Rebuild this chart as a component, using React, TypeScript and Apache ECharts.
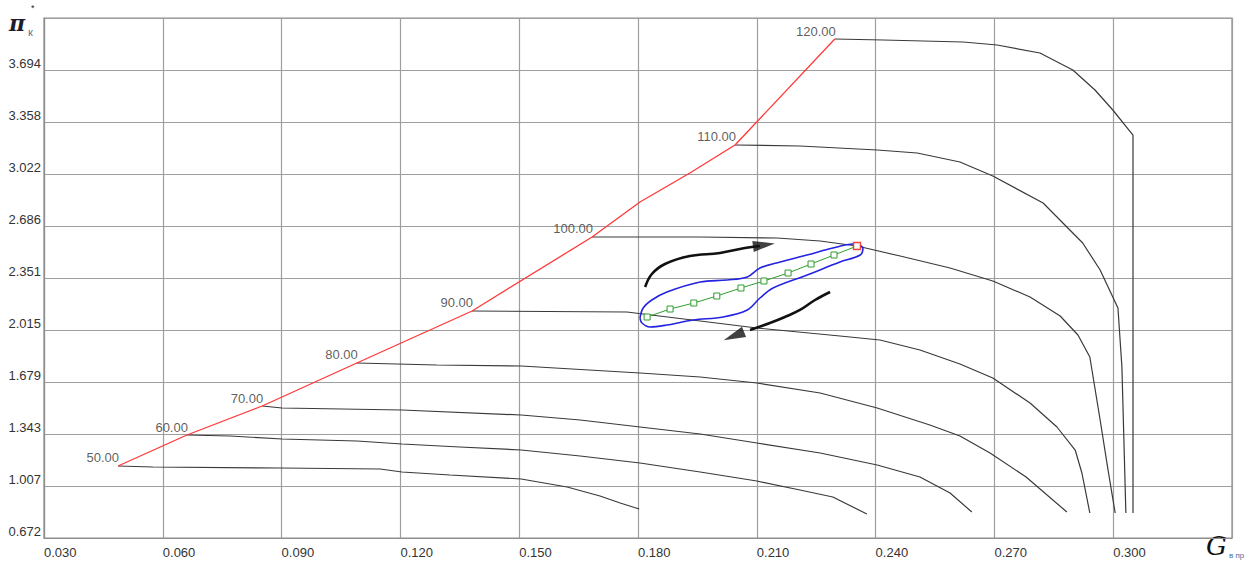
import React, { useEffect, useRef } from "react";
import * as echarts from "echarts";

// Compressor map: pressure ratio vs. corrected mass flow
const speedLabels = [50, 60, 70, 80, 90, 100, 110, 120];

const line50 = [[0.0487, 1.1366], [0.0575, 1.1301], [0.0896, 1.1236], [0.1149, 1.1172], [0.1204, 1.0978], [0.1325, 1.0784], [0.1505, 1.0526], [0.1621, 1.0009], [0.1704, 0.9428], [0.1755, 0.8976], [0.1803, 0.8589]];
const line60 = [[0.0661, 1.3367], [0.0770, 1.3302], [0.0901, 1.3109], [0.1090, 1.2980], [0.1204, 1.2786], [0.1350, 1.2592], [0.1505, 1.2398], [0.1654, 1.2011], [0.1805, 1.1559], [0.1957, 1.0978], [0.2100, 1.0396], [0.2209, 0.9815], [0.2292, 0.9363], [0.2378, 0.8265]];
const line70 = [[0.0851, 1.5240], [0.0901, 1.5111], [0.1204, 1.4982], [0.1505, 1.4659], [0.1654, 1.4336], [0.1805, 1.3884], [0.1957, 1.3432], [0.2100, 1.2851], [0.2260, 1.2205], [0.2404, 1.1430], [0.2512, 1.0655], [0.2588, 0.9622], [0.2643, 0.8395]];
const line80 = [[0.1090, 1.8017], [0.1292, 1.7888], [0.1505, 1.7823], [0.1805, 1.7371], [0.1957, 1.7113], [0.2100, 1.6725], [0.2260, 1.6080], [0.2404, 1.5111], [0.2537, 1.4013], [0.2613, 1.3303], [0.2689, 1.2205], [0.2780, 1.0655], [0.2883, 0.8395]];
const line90 = [[0.1381, 2.1375], [0.1772, 2.1310], [0.1957, 2.0729], [0.2100, 2.0277], [0.2310, 1.9760], [0.2411, 1.9502], [0.2512, 1.8856], [0.2613, 1.7952], [0.2696, 1.7048], [0.2790, 1.5433], [0.2858, 1.3884], [0.2904, 1.2398], [0.2921, 1.0913], [0.2941, 0.8330]];
const line100 = [[0.1684, 2.6154], [0.1957, 2.6154], [0.2151, 2.6089], [0.2260, 2.5895], [0.2353, 2.5572], [0.2462, 2.4926], [0.2588, 2.4151], [0.2696, 2.3312], [0.2790, 2.2279], [0.2866, 2.1052], [0.2911, 1.9825], [0.2941, 1.8404], [0.2967, 1.4336], [0.2987, 1.1107], [0.3005, 0.8330]];
const line110 = [[0.2045, 3.2095], [0.2209, 3.2030], [0.2404, 3.1772], [0.2505, 3.1578], [0.2613, 3.0997], [0.2696, 3.0093], [0.2823, 2.8349], [0.2923, 2.5766], [0.2967, 2.4023], [0.3012, 2.1569], [0.3022, 1.7759], [0.3032, 0.8330]];
const line120 = [[0.2297, 3.8939], [0.2419, 3.8875], [0.2621, 3.8746], [0.2707, 3.8552], [0.2815, 3.8035], [0.2898, 3.6938], [0.2954, 3.5646], [0.2999, 3.4355], [0.3050, 3.2740], [0.3050, 0.8330]];

// Surge boundary through the start of each speed line
const surgeLine = [[0.0487, 1.1366], [0.0661, 1.3367], [0.0851, 1.5240], [0.1090, 1.8017], [0.1381, 2.1375], [0.1684, 2.6154], [0.1805, 2.8413], [0.1931, 3.0286], [0.2045, 3.2095], [0.2297, 3.8939]];

// Operating points and their final point
const operatingLine = [[0.1823, 2.0987], [0.1881, 2.1504], [0.1941, 2.1891], [0.1999, 2.2343], [0.2060, 2.2860], [0.2118, 2.3312], [0.2179, 2.3828], [0.2237, 2.4410], [0.2295, 2.4991]];
const operatingEnd = [0.2353, 2.5572];

// Envelope around the operating line
const envelope = [[0.1805, 2.0923], [0.1813, 2.1569], [0.1835, 2.2085], [0.1873, 2.2602], [0.1957, 2.3247], [0.2025, 2.3376], [0.2076, 2.3571], [0.2108, 2.4151], [0.2159, 2.4539], [0.2227, 2.4991], [0.2292, 2.5444], [0.2343, 2.5701], [0.2368, 2.5444], [0.2361, 2.4991], [0.2310, 2.4539], [0.2227, 2.3699], [0.2141, 2.2860], [0.2108, 2.2214], [0.2076, 2.1440], [0.2015, 2.0987], [0.1939, 2.0793], [0.1873, 2.0470], [0.1830, 2.0341], [0.1810, 2.0600], [0.1805, 2.0923]];

// Direction arrows (stroke + head position)
const arrowUp = [[0.1818, 2.2925], [0.1835, 2.3764], [0.1868, 2.4410], [0.1931, 2.4926], [0.2007, 2.5120], [0.2070, 2.5444], [0.2108, 2.5572]];
const arrowUpHead = [0.2118, 2.5637];
const arrowDown = [[0.2285, 2.2602], [0.2247, 2.2085], [0.2209, 2.1440], [0.2171, 2.0987], [0.2133, 2.0600], [0.2083, 2.0148]];
const arrowDownHead = [0.2042, 1.9760];

const speedLines = [line50, line60, line70, line80, line90, line100, line110, line120];

const FONT = "Arial, 'Liberation Sans', sans-serif";

export default function App() {
  const ref = useRef<HTMLDivElement>(null);

  useEffect(() => {
    document.body.style.margin = "0";
    const chart = echarts.init(ref.current!, null, { renderer: "svg" });

    const speedSeries = speedLines.map((d, i) => ({
      type: "line",
      name: `n${speedLabels[i]}`,
      data: d,
      symbol: "none",
      silent: true,
      z: 3,
      lineStyle: { color: "#3a3a3a", width: 1.2 },
    }));

    const option: any = {
      animation: false,
      backgroundColor: "#ffffff",
      grid: {
        left: 44,
        right: 22,
        top: 18,
        bottom: 24,
        show: true,
        borderColor: "#8e8e8e",
        borderWidth: 1.2,
      },
      xAxis: {
        type: "value",
        min: 0.03,
        max: 0.33,
        interval: 0.03,
        axisLine: { show: true, lineStyle: { color: "#8e8e8e", width: 1.2 } },
        axisTick: { show: false },
        splitLine: { show: true, lineStyle: { color: "#9e9e9e", width: 1.2 } },
        axisLabel: {
          formatter: (v: number) => v.toFixed(3),
          align: "left",
          margin: 8,
          color: "#333",
          fontSize: 13,
          fontFamily: FONT,
          showMaxLabel: false,
        },
      },
      yAxis: {
        type: "value",
        min: 0.6716,
        max: 4.0296,
        interval: 0.3358,
        axisLine: { show: true, lineStyle: { color: "#8e8e8e", width: 1.2 } },
        axisTick: { show: false },
        splitLine: { show: true, lineStyle: { color: "#9e9e9e", width: 1.2 } },
        axisLabel: {
          formatter: (v: number) => v.toFixed(3),
          verticalAlign: "bottom",
          margin: 3,
          color: "#333",
          fontSize: 13,
          fontFamily: FONT,
          showMaxLabel: false,
        },
      },
      graphic: [
        {
          type: "text",
          x: 9,
          y: 23,
          style: {
            text: "π",
            font: "italic bold 22px 'DejaVu Serif', serif",
            fill: "#1c1c30",
            textVerticalAlign: "middle",
          },
        },
        {
          type: "text",
          x: 31,
          y: 8,
          style: { text: "*", font: "9px Arial", fill: "#222", textVerticalAlign: "middle" },
        },
        {
          type: "text",
          x: 28,
          y: 32,
          style: { text: "к", font: "11px Arial", fill: "#5a6f8f", textVerticalAlign: "middle" },
        },
        {
          type: "text",
          x: 1206,
          y: 546,
          style: {
            text: "G",
            font: "italic 26px 'DejaVu Serif', serif",
            fill: "#111",
            textVerticalAlign: "middle",
          },
        },
        {
          type: "text",
          x: 1229,
          y: 555,
          style: { text: "в пр", font: "8px Arial", fill: "#4a6fa5", textVerticalAlign: "middle" },
        },
      ],
      series: [
        ...speedSeries,
        {
          type: "line",
          name: "surge",
          data: surgeLine,
          symbol: "none",
          silent: true,
          z: 4,
          lineStyle: { color: "#ff3838", width: 1.3 },
        },
        {
          type: "scatter",
          name: "speedLabels",
          data: speedLines.map((d, i) => ({ value: d[0], name: speedLabels[i].toFixed(2) })),
          symbolSize: 0,
          silent: true,
          z: 5,
          label: {
            show: true,
            position: "left",
            distance: 0,
            offset: [1, -8],
            formatter: (p: any) => p.name,
            color: "#333",
            fontSize: 13,
            fontFamily: FONT,
          },
        },
        {
          type: "line",
          name: "envelope",
          data: envelope,
          symbol: "none",
          smooth: 0.35,
          silent: true,
          z: 6,
          lineStyle: { color: "#2323e0", width: 1.6 },
        },
        {
          type: "line",
          name: "operating",
          data: [...operatingLine, operatingEnd],
          symbol: "rect",
          symbolSize: 6,
          silent: true,
          z: 7,
          lineStyle: { color: "#2e9e2e", width: 1 },
          itemStyle: { color: "#ffffff", borderColor: "#2e9e2e", borderWidth: 1 },
        },
        {
          type: "scatter",
          name: "operatingEnd",
          data: [operatingEnd],
          symbol: "rect",
          symbolSize: 7,
          silent: true,
          z: 8,
          itemStyle: { color: "#ffffff", borderColor: "#ff2020", borderWidth: 1.4 },
        },
        {
          type: "line",
          name: "arrowUp",
          data: arrowUp,
          symbol: "none",
          smooth: 0.4,
          silent: true,
          z: 6,
          lineStyle: { color: "#111", width: 2.6 },
        },
        {
          type: "line",
          name: "arrowDown",
          data: arrowDown,
          symbol: "none",
          smooth: 0.4,
          silent: true,
          z: 6,
          lineStyle: { color: "#111", width: 2.6 },
        },
        {
          type: "scatter",
          name: "arrowHeads",
          data: [
            { value: arrowUpHead, symbolRotate: -82 },
            { value: arrowDownHead, symbolRotate: 112 },
          ],
          symbol: "triangle",
          symbolSize: [11, 22],
          silent: true,
          z: 6,
          itemStyle: { color: "#111" },
        },
      ],
    };

    chart.setOption(option);
    return () => chart.dispose();
  }, []);

  return <div ref={ref} style={{ width: 1254, height: 562 }} />;
}
